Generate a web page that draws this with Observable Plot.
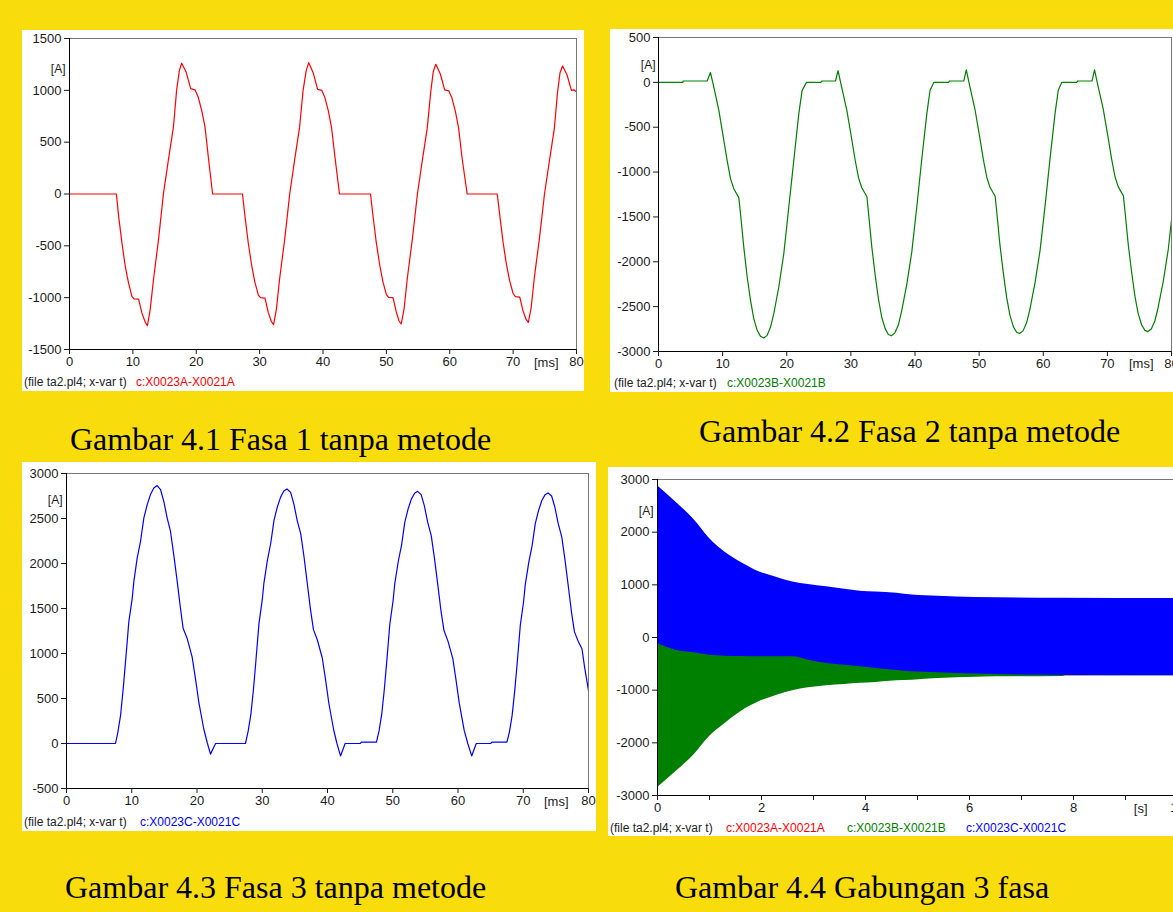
<!DOCTYPE html>
<html><head><meta charset="utf-8">
<script src="https://cdn.jsdelivr.net/npm/d3@7"></script>
<script src="https://cdn.jsdelivr.net/npm/@observablehq/plot@0.6"></script>
<style>
html,body{margin:0;padding:0;background:#f9dc0b;}
#page{position:relative;width:1173px;height:912px;overflow:hidden;background:#f9dc0b;}
.box{position:absolute;background:#fff;}
.box svg{position:absolute;left:0;top:0;max-width:none !important;}
.foot{position:absolute;font:12px "Liberation Sans",Arial,sans-serif;color:#222;white-space:nowrap;line-height:14px;}
.cap{position:absolute;font:32px "Liberation Serif","Times New Roman",serif;color:#000;white-space:nowrap;line-height:32px;}
</style></head><body><div id="page"></div>
<script>
// ---------- data (time in ms, current in A) ----------
const phaseA = [[0,0],[7.4,0],[7.76,-218],[8.28,-474],[8.8,-699],[9.32,-859],[9.85,-987],[10.2,-1013],[10.9,-1015],[11.42,-1147],[11.95,-1237],[12.3,-1270],[12.73,-1115],[13.25,-827],[14.04,-442],[14.83,6],[15.6,327],[16.4,647],[16.9,1000],[17.34,1192],[17.7,1262],[18.4,1176],[19.12,1016],[19.8,1005],[20.3,936],[20.85,808],[21.38,647],[21.9,359],[22.58,0],
[27.3,0],[27.66,-200],[28.2,-470],[28.75,-690],[29.25,-850],[29.8,-975],[30.15,-1000],[30.85,-1005],[31.35,-1140],[31.85,-1230],[32.2,-1261],[32.65,-1110],[33.15,-820],[33.95,-440],[34.75,0],[35.5,320],[36.3,640],[36.85,995],[37.35,1190],[37.75,1267],[38.45,1170],[39.15,1010],[39.8,1000],[40.3,930],[40.85,800],[41.35,640],[41.9,350],[42.6,0],
[47.5,0],[47.85,-190],[48.4,-465],[48.95,-685],[49.45,-845],[50.0,-970],[50.35,-998],[51.05,-1000],[51.55,-1135],[52.0,-1225],[52.35,-1254],[52.8,-1105],[53.3,-815],[54.1,-435],[54.9,0],[55.65,315],[56.45,635],[57.0,985],[57.4,1180],[57.8,1251],[58.5,1160],[59.2,1005],[59.85,995],[60.35,925],[60.9,795],[61.4,635],[61.95,345],[62.75,0],
[67.5,0],[67.85,-185],[68.4,-460],[68.95,-680],[69.45,-835],[70.0,-960],[70.35,-990],[71.05,-995],[71.55,-1125],[72.05,-1210],[72.4,-1238],[72.85,-1095],[73.35,-805],[74.15,-430],[74.95,0],[75.7,310],[76.5,630],[77.0,975],[77.4,1170],[77.8,1235],[78.5,1150],[79.2,1000],[79.6,1005],[80.0,985]];

const phaseB = [[0,0],[3.8,0],[3.85,15],[7.59,15],[8.1,110],[8.63,-52],[9.41,-312],[10.19,-647],[10.7,-869],[11.23,-1073],[11.74,-1185],[12.52,-1285],[12.79,-1464],[13.3,-1836],[13.83,-2170],[14.35,-2430],[14.86,-2634],[15.39,-2764],[15.91,-2831],[16.42,-2850],[16.95,-2820],[17.47,-2728],[17.98,-2578],[18.76,-2281],[19.54,-1909],[20.32,-1390],[21.1,-869],[21.88,-349],[22.4,-89],[23.08,0],[25.3,0],[25.5,15],
[27.6,15],[28.0,130],[28.55,-50],[29.35,-305],[30.15,-640],[30.65,-860],[31.2,-1065],[31.7,-1175],[32.5,-1275],[32.75,-1455],[33.25,-1825],[33.8,-2155],[34.3,-2415],[34.8,-2615],[35.35,-2745],[35.85,-2810],[36.3,-2825],[36.85,-2795],[37.4,-2705],[37.9,-2555],[38.7,-2260],[39.5,-1890],[40.3,-1375],[41.05,-860],[41.85,-345],[42.35,-88],[42.95,0],[45.2,0],[45.4,15],
[47.6,15],[48.0,140],[48.55,-45],[49.35,-300],[50.15,-635],[50.65,-855],[51.2,-1060],[51.7,-1170],[52.5,-1270],[52.75,-1445],[53.25,-1815],[53.8,-2140],[54.3,-2400],[54.8,-2595],[55.35,-2725],[55.85,-2785],[56.3,-2800],[56.85,-2770],[57.4,-2680],[57.9,-2535],[58.7,-2240],[59.5,-1875],[60.3,-1365],[61.05,-855],[61.85,-340],[62.35,-85],[62.9,0],[65.2,0],[65.4,15],
[67.6,15],[68.0,140],[68.55,-45],[69.35,-295],[70.15,-630],[70.65,-850],[71.2,-1055],[71.7,-1165],[72.5,-1265],[72.75,-1440],[73.25,-1805],[73.8,-2125],[74.3,-2385],[74.8,-2575],[75.35,-2705],[75.85,-2765],[76.3,-2778],[76.85,-2750],[77.4,-2660],[77.9,-2515],[78.7,-2225],[79.5,-1860],[80.0,-1534]];

const phaseC = [[0,0],[7.51,0],[7.87,123],[8.28,309],[8.69,607],[9.04,904],[9.3,1128],[9.55,1351],[10.07,1612],[10.32,1798],[10.83,2059],[11.34,2244],[11.85,2505],[12.37,2654],[12.87,2766],[13.38,2840],[13.9,2866],[14.41,2822],[14.91,2691],[15.43,2505],[15.94,2356],[16.44,2096],[16.97,1798],[17.47,1500],[17.88,1277],[18.5,1166],[19.26,960],[19.77,719],[20.28,458],[21.04,161],[21.56,11],[22.07,-118],[22.84,0],[27.43,0],
[27.85,140],[28.25,320],[28.65,600],[29.0,895],[29.25,1115],[29.5,1335],[30.0,1595],[30.25,1780],[30.8,2040],[31.3,2225],[31.8,2480],[32.3,2625],[32.8,2735],[33.3,2805],[33.8,2828],[34.35,2790],[34.85,2660],[35.35,2480],[35.9,2330],[36.4,2075],[36.9,1780],[37.4,1485],[37.85,1265],[38.45,1150],[39.2,950],[39.7,710],[40.2,450],[40.95,150],[41.45,0],[42.0,-138],[42.7,0],[45.0,0],[45.2,15],[47.5,15],
[47.9,140],[48.3,320],[48.7,595],[49.05,885],[49.3,1105],[49.55,1325],[50.05,1585],[50.3,1770],[50.85,2025],[51.35,2205],[51.85,2460],[52.35,2605],[52.85,2715],[53.35,2780],[53.8,2802],[54.35,2765],[54.85,2640],[55.35,2460],[55.9,2310],[56.4,2055],[56.9,1765],[57.4,1470],[57.85,1255],[58.45,1140],[59.2,945],[59.7,705],[60.2,445],[60.95,145],[61.5,0],[62.1,-138],[62.8,0],[65.0,0],[65.2,15],[67.5,15],
[67.9,135],[68.3,315],[68.7,590],[69.05,875],[69.3,1095],[69.55,1315],[70.05,1575],[70.3,1760],[70.85,2015],[71.35,2195],[71.85,2445],[72.35,2590],[72.85,2700],[73.35,2765],[73.8,2784],[74.35,2750],[74.85,2625],[75.35,2445],[75.9,2295],[76.4,2040],[76.9,1750],[77.4,1455],[77.85,1240],[78.45,1130],[79.0,1053],[79.4,849],[80.0,588]];

// envelopes for the 10 s run: [time s, min A, max A]
const envA = [[0,-1265,1265],[1,-1100,1100],[2,-950,950],[3,-860,860],[4,-800,800],[6,-745,745],[8,-725,725],[10.2,-720,720]];
const envB = [[0,-2854,110],[0.35,-2550,150],[0.7,-2230,200],[1.0,-1880,250],[1.3,-1633,300],[1.6,-1411,350],[1.95,-1222,420],[2.3,-1095,480],[2.6,-1010,530],[2.9,-955,570],[3.25,-915,610],[3.6,-892,640],[3.9,-870,665],[4.2,-854,685],[4.6,-823,700],[4.9,-810,710],[5.4,-778,720],[6.1,-753,728],[7.8,-740,735],[7.85,-728,735],[10.2,-728,738]];
const envC = [[0,-114,2880],[0.35,-240,2575],[0.7,-290,2240],[1.0,-335,1880],[1.3,-354,1620],[1.6,-362,1430],[1.95,-367,1250],[2.3,-367,1140],[2.6,-367,1055],[2.9,-430,1005],[3.25,-494,962],[3.6,-525,918],[3.9,-557,880],[4.2,-589,865],[4.6,-625,840],[4.9,-652,805],[5.4,-668,784],[6.1,-695,760],[7.8,-722,746],[10.2,-728,740]];

// ticks
const msTicks = [0,10,20,30,40,50,60,70,80];
const yTicksA = [-1500,-1000,-500,0,500,1000,1500];
const yTicksB = [-3000,-2500,-2000,-1500,-1000,-500,0,500];
const yTicksC = [-500,0,500,1000,1500,2000,2500,3000];
const yTicksAll = [-3000,-2000,-1000,0,1000,2000,3000];
const sTicks = [0,2,4,6,8,10];
const sMinor = [1,3,5,7,9];

const colA = "#ff0000", colB = "#008000", colC = "#0000ff";
const fileText = "(file ta2.pl4; x-var t)";
const captions = ["Gambar 4.1 Fasa 1 tanpa metode","Gambar 4.2 Fasa 2 tanpa metode","Gambar 4.3 Fasa 3 tanpa metode","Gambar 4.4 Gabungan 3 fasa"];

// ---------- drawing ----------
const page = document.getElementById("page");
const fmt = d => String(d);

function panel(cfg) {
  const box = document.createElement("div");
  box.className = "box";
  Object.assign(box.style, {left: cfg.box[0]+"px", top: cfg.box[1]+"px", width: cfg.box[2]+"px", height: cfg.box[3]+"px"});
  const chart = Plot.plot({
    width: cfg.svg[0], height: cfg.svg[1],
    marginLeft: cfg.m[0], marginRight: cfg.m[1], marginTop: cfg.m[2], marginBottom: cfg.m[3],
    x: {domain: cfg.xDomain},
    y: {domain: cfg.yDomain},
    style: {fontFamily: '"Liberation Sans", Arial, sans-serif', fontSize: "13px", color: "#1c1c1c", background: "transparent", overflow: "visible", maxWidth: "none"},
    marks: [
      ...cfg.marks,
      Plot.frame({stroke: "#777"}),
      Plot.ruleX([cfg.xDomain[0]], {stroke: "#000"}),
      Plot.ruleY([cfg.yDomain[0]], {stroke: "#000"}),
      Plot.axisY(cfg.yTicks, {tickSize: 5, tickPadding: 3, label: null, tickFormat: fmt}),
      Plot.axisX(cfg.xTicks, {tickSize: 5, tickPadding: 2, label: null, tickFormat: fmt}),
      cfg.xMinor ? Plot.axisX(cfg.xMinor, {tickSize: 5, tickFormat: () => "", label: null}) : null,
      Plot.text(["[A]"], {text: d => d, frameAnchor: "top-left", dx: cfg.yUnit[0], dy: cfg.yUnit[1], textAnchor: "end", fontSize: 12}),
      Plot.text([cfg.xUnit[0]], {text: d => d, frameAnchor: cfg.xUnit[1], dx: cfg.xUnit[2], dy: cfg.xUnit[3], textAnchor: "end", fontSize: 13})
    ]
  });
  box.appendChild(chart);
  for (const f of cfg.foot) {
    const s = document.createElement("div");
    s.className = "foot";
    s.textContent = f[0];
    Object.assign(s.style, {left: f[1]+"px", top: cfg.footTop+"px", color: f[2]});
    box.appendChild(s);
  }
  page.appendChild(box);
}

const lineOpts = (c) => ({x: d => d[0], y: d => d[1], stroke: c, strokeWidth: 1.2, clip: true});
const areaOpts = (c) => ({x: d => d[0], y1: d => d[1], y2: d => d[2], fill: c, curve: "monotone-x", clip: true});

panel({
  box: [22, 30, 562, 361], svg: [562, 345], m: [47, 8, 8, 26],
  xDomain: [0, 80], yDomain: [-1500, 1500], xTicks: msTicks, yTicks: yTicksA,
  marks: [Plot.line(phaseA, lineOpts(colA))],
  yUnit: [-4, 26], xUnit: ["[ms]", "bottom-right", -18, 17],
  footTop: 345, foot: [[fileText, 2, "#222"], ["c:X0023A-X0021A", 114, colA]]
});
panel({
  box: [610, 29, 563, 363], svg: [575, 346], m: [48, 14, 8, 24],
  xDomain: [0, 80], yDomain: [-3000, 500], xTicks: msTicks, yTicks: yTicksB,
  marks: [Plot.line(phaseB, lineOpts(colB))],
  yUnit: [-3, 23], xUnit: ["[ms]", "bottom-right", -18, 16],
  footTop: 347, foot: [[fileText, 4, "#222"], ["c:X0023B-X0021B", 117, colB]]
});
panel({
  box: [22, 462, 574, 369], svg: [574, 350], m: [44, 8, 11, 24],
  xDomain: [0, 80], yDomain: [-500, 3000], xTicks: msTicks, yTicks: yTicksC,
  marks: [Plot.line(phaseC, lineOpts(colC))],
  yUnit: [-4, 22], xUnit: ["[ms]", "bottom-right", -20, 17],
  footTop: 353, foot: [[fileText, 2, "#222"], ["c:X0023C-X0021C", 118, colC]]
});
panel({
  box: [608, 467, 565, 369], svg: [579, 352], m: [49, 10, 12, 24],
  xDomain: [0, 10], yDomain: [-3000, 3000], xTicks: sTicks, xMinor: sMinor, yTicks: yTicksAll,
  marks: [
    Plot.areaY(envA, areaOpts(colA)),
    Plot.areaY(envB, areaOpts(colB)),
    Plot.areaY(envC, areaOpts(colC))
  ],
  yUnit: [-4, 27], xUnit: ["[s]", "bottom-left", 490, 17],
  footTop: 354, foot: [[fileText, 2, "#222"], ["c:X0023A-X0021A", 118, colA], ["c:X0023B-X0021B", 239, colB], ["c:X0023C-X0021C", 358, colC]]
});

const capPos = [[70, 423], [699, 415], [65, 871], [675, 871]];
captions.forEach((t, i) => {
  const c = document.createElement("div");
  c.className = "cap";
  c.textContent = t;
  c.style.left = capPos[i][0] + "px";
  c.style.top = capPos[i][1] + "px";
  page.appendChild(c);
});
</script>
</body></html>
